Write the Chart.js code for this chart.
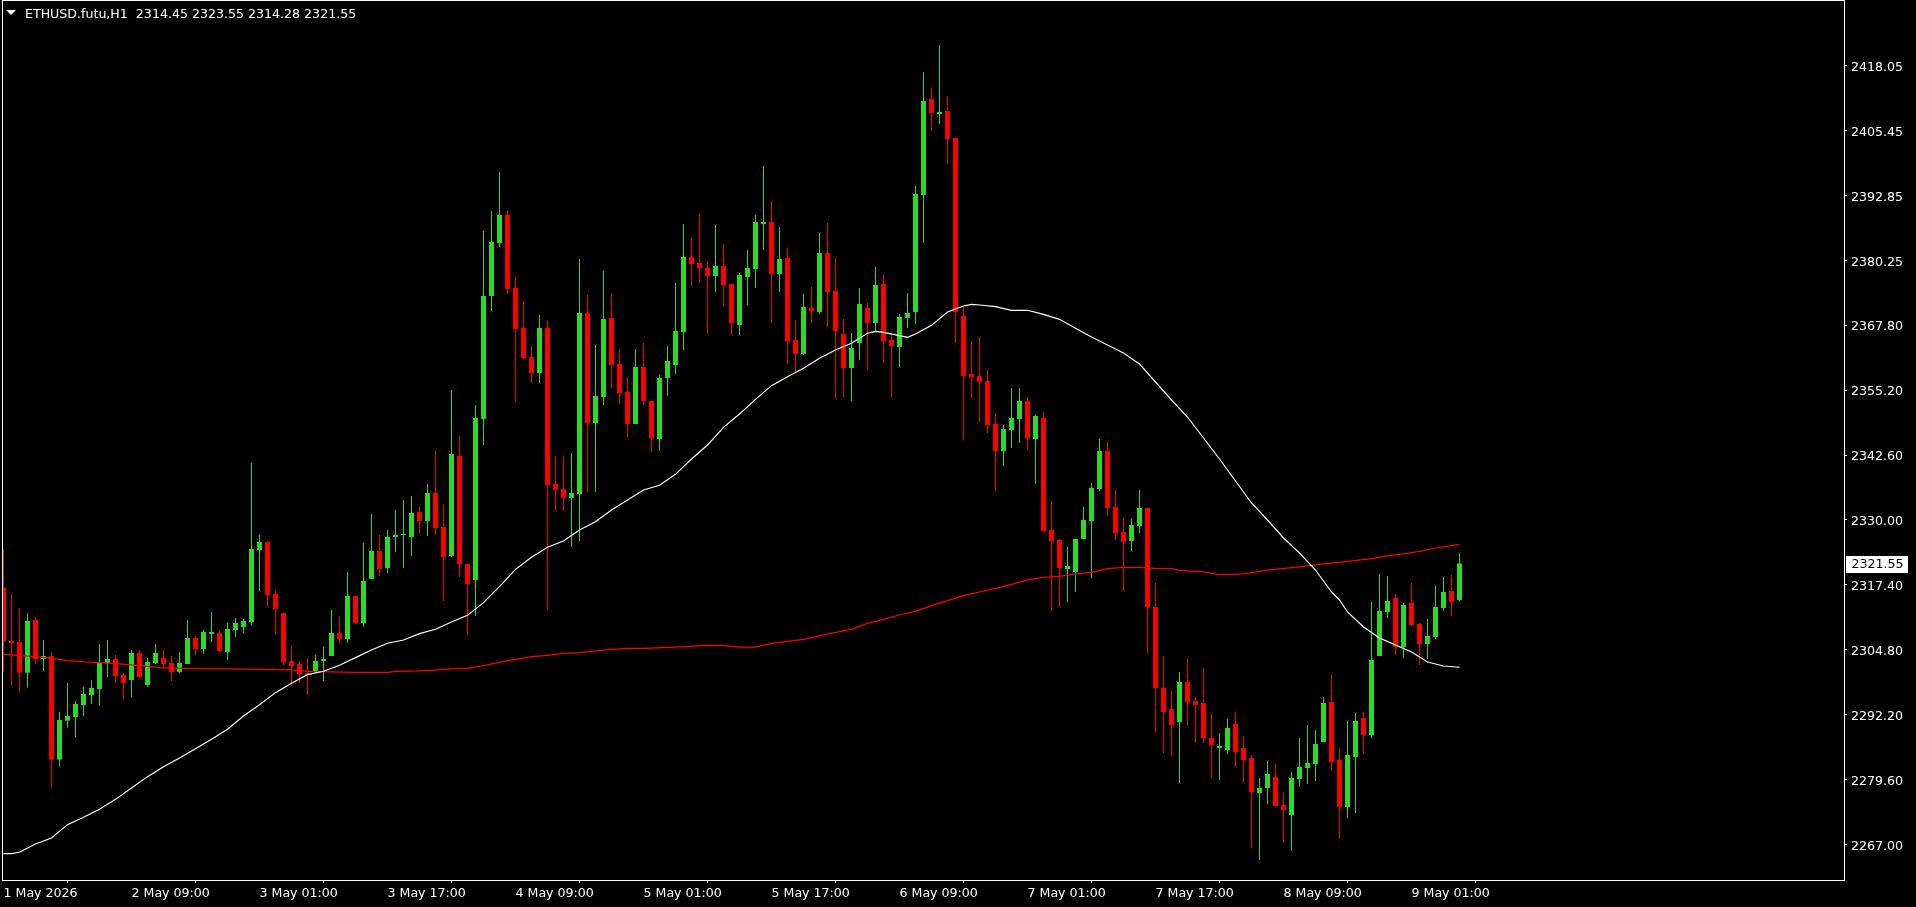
<!DOCTYPE html>
<html>
<head>
<meta charset="utf-8">
<title>ETHUSD.futu,H1</title>
<script src="https://cdn.jsdelivr.net/npm/chart.js@4"></script>
<style>
  html, body { margin: 0; padding: 0; background: #000; overflow: hidden; }
  #wrap { position: relative; width: 1916px; height: 907px; }
</style>
</head>
<body>
<div id="wrap"><canvas id="chart" width="1916" height="907"></canvas></div>
<script>
const symbolLine = "ETHUSD.futu,H1  2314.45 2323.55 2314.28 2321.55";
const lastPrice = 2321.55;

const opens = [
  2316.88,2306.54,2306.35,2300.40,2310.61,2303.05,2303.63,2283.53,2291.09,2291.80,
  2294.13,2296.07,2297.23,2302.21,2303.05,2299.94,2298.97,2304.21,2298.01,2302.27,
  2303.24,2302.27,2300.53,2302.08,2307.12,2304.99,2307.90,2308.09,2304.41,2308.67,
  2309.25,2310.22,2324.18,2325.73,2315.65,2311.97,2302.66,2302.08,2300.33,2300.72,
  2302.66,2303.63,2308.09,2306.92,2315.26,2310.03,2318.56,2323.99,2320.69,2326.71,
  2327.09,2326.71,2331.55,2329.81,2335.24,2328.64,2323.02,2342.41,2321.47,2318.37,
  2349.59,2373.44,2383.72,2389.15,2374.99,2367.23,2361.61,2358.51,2367.23,2336.98,
  2336.01,2334.27,2335.04,2370.14,2348.81,2353.85,2369.17,2360.25,2354.82,2348.62,
  2359.67,2353.08,2345.71,2357.54,2360.06,2366.46,2381.00,2379.84,2378.87,2377.31,
  2379.25,2375.76,2367.81,2377.12,2378.67,2387.40,2387.79,2377.70,2380.81,2364.90,
  2362.19,2371.11,2370.33,2381.77,2374.41,2366.07,2359.47,2364.32,2371.11,2368.20,
  2375.76,2364.90,2363.55,2369.17,2370.33,2393.02,2411.64,2408.73,2409.31,2404.07,
  2369.56,2358.31,2357.92,2356.95,2348.61,2343.38,2347.45,2349.58,2353.08,2345.71,
  2349.78,2328.06,2326.12,2320.50,2319.92,2326.32,2329.81,2336.01,2343.38,2332.52,
  2327.68,2325.93,2328.84,2332.33,2313.13,2297.42,2293.35,2290.83,2298.59,2294.90,
  2294.51,2287.73,2285.79,2285.40,2290.44,2285.79,2283.85,2277.06,2278.03,2280.16,
  2274.73,2272.80,2279.78,2281.91,2282.68,2286.95,2294.71,2283.46,2274.35,2284.04,
  2291.60,2288.31,2303.63,2312.16,2314.87,2305.37,2313.91,2309.83,2305.95,2307.31,
  2312.94,2316.23,2314.45
];
const highs = [
  2324.38,2315.46,2312.94,2311.90,2311.19,2306.73,2304.41,2292.77,2298.40,2294.91,
  2297.62,2298.97,2305.96,2306.73,2303.82,2300.33,2304.79,2304.79,2303.24,2305.96,
  2304.79,2303.63,2304.41,2310.61,2307.51,2308.67,2312.16,2308.67,2310.03,2311.00,
  2310.80,2341.05,2327.09,2325.93,2316.43,2311.97,2305.57,2302.66,2303.24,2303.82,
  2305.37,2312.55,2311.38,2319.92,2315.26,2325.54,2331.16,2327.09,2328.06,2331.94,
  2333.88,2334.65,2332.52,2336.98,2343.38,2333.10,2355.21,2346.29,2321.47,2352.30,
  2386.04,2389.92,2397.48,2390.12,2377.12,2372.47,2363.74,2369.75,2368.79,2342.41,
  2342.41,2342.99,2380.61,2373.63,2363.94,2378.29,2373.83,2362.97,2357.73,2363.16,
  2364.33,2353.08,2358.12,2363.74,2375.96,2387.40,2384.69,2389.34,2380.22,2387.20,
  2383.52,2375.76,2377.89,2382.36,2389.15,2398.65,2391.86,2386.82,2382.74,2368.79,
  2373.83,2375.18,2385.65,2387.59,2380.81,2368.98,2366.26,2374.99,2372.08,2379.06,
  2377.51,2365.87,2369.95,2374.02,2394.77,2416.88,2413.77,2422.11,2412.22,2404.07,
  2371.30,2364.71,2365.49,2359.09,2350.75,2348.42,2355.60,2355.60,2353.85,2350.36,
  2350.94,2333.69,2326.32,2324.77,2326.32,2332.52,2337.18,2345.71,2345.13,2335.82,
  2330.39,2330.20,2335.82,2332.33,2317.79,2303.63,2296.84,2300.52,2303.05,2295.68,
  2301.30,2292.38,2288.70,2291.41,2292.77,2288.11,2284.43,2279.97,2283.27,2282.68,
  2277.26,2281.13,2287.73,2290.25,2289.28,2295.68,2299.94,2285.79,2291.02,2292.57,
  2292.77,2314.10,2319.53,2319.14,2315.65,2313.91,2317.78,2310.03,2310.80,2317.20,
  2318.95,2319.33,2323.55
];
const lows = [
  2300.59,2298.01,2296.52,2297.49,2302.14,2300.72,2278.10,2282.17,2289.73,2287.80,
  2292.00,2294.32,2294.00,2299.56,2298.40,2295.16,2295.74,2299.36,2297.68,2302.08,
  2301.11,2298.78,2300.33,2302.08,2303.82,2304.02,2306.35,2304.41,2302.85,2307.31,
  2308.09,2309.64,2316.23,2313.13,2307.90,2301.88,2297.81,2298.40,2296.07,2300.33,
  2298.78,2303.63,2306.15,2306.15,2309.83,2309.31,2318.56,2319.14,2319.72,2323.80,
  2320.69,2323.02,2327.48,2326.90,2327.09,2314.29,2322.83,2318.95,2307.70,2311.39,
  2344.55,2370.53,2382.94,2373.83,2352.88,2361.22,2356.57,2356.57,2312.55,2331.75,
  2331.75,2324.77,2325.93,2335.43,2335.43,2352.30,2355.60,2352.50,2346.10,2348.62,
  2352.30,2343.19,2343.38,2354.05,2358.31,2362.97,2375.38,2375.96,2366.26,2374.21,
  2371.50,2365.87,2365.87,2371.69,2374.99,2382.36,2368.20,2374.21,2360.25,2358.70,
  2362.00,2368.20,2369.95,2367.43,2353.46,2353.85,2353.08,2361.03,2359.09,2366.65,
  2360.45,2353.85,2359.67,2367.23,2368.01,2383.71,2405.43,2406.79,2399.03,2364.32,
  2345.51,2353.66,2349.00,2346.87,2335.62,2340.47,2343.96,2344.93,2343.57,2336.98,
  2327.87,2312.36,2313.13,2314.10,2316.04,2326.32,2318.76,2335.62,2330.78,2326.12,
  2316.23,2323.99,2327.48,2304.21,2288.89,2284.82,2284.24,2279.00,2290.25,2286.76,
  2286.76,2279.97,2279.58,2284.62,2282.10,2279.00,2266.40,2264.07,2274.93,2274.54,
  2267.37,2265.81,2278.23,2278.81,2279.39,2286.95,2281.33,2268.14,2272.21,2273.18,
  2284.62,2287.73,2303.63,2311.00,2303.82,2303.24,2309.45,2301.88,2303.05,2306.92,
  2312.35,2311.38,2314.28
];
const closes = [
  2306.41,2306.15,2300.40,2310.42,2303.05,2303.63,2283.53,2291.22,2292.00,2294.32,
  2296.26,2297.43,2302.27,2303.05,2299.75,2298.40,2304.21,2299.56,2302.47,2304.21,
  2302.08,2300.53,2302.27,2307.12,2304.99,2308.28,2308.28,2304.60,2308.87,2310.03,
  2310.42,2324.38,2325.73,2315.46,2312.74,2302.47,2301.69,2300.14,2299.94,2302.66,
  2303.05,2308.09,2306.92,2315.26,2310.03,2318.17,2323.99,2320.50,2326.71,2327.09,
  2327.29,2331.36,2329.81,2335.24,2328.45,2322.83,2342.80,2321.47,2317.59,2349.78,
  2373.44,2383.91,2389.15,2374.80,2367.04,2361.42,2358.51,2367.23,2336.79,2335.82,
  2334.27,2335.24,2370.14,2348.81,2354.05,2368.98,2360.06,2354.63,2348.62,2359.67,
  2353.08,2345.90,2357.54,2360.83,2366.65,2381.00,2379.64,2378.87,2377.31,2379.25,
  2375.57,2368.20,2377.51,2378.87,2387.79,2387.79,2377.70,2380.61,2364.71,2362.19,
  2371.30,2370.53,2381.77,2374.21,2366.65,2359.47,2363.35,2371.89,2368.20,2375.57,
  2364.71,2363.74,2369.37,2370.14,2393.22,2411.25,2408.92,2409.12,2403.88,2370.33,
  2357.92,2357.73,2356.76,2348.42,2343.38,2347.65,2349.78,2353.08,2345.90,2350.17,
  2327.87,2325.93,2320.69,2321.08,2326.32,2330.00,2336.21,2343.38,2332.33,2327.48,
  2325.74,2329.03,2332.33,2313.13,2297.42,2292.77,2290.25,2298.59,2294.71,2294.13,
  2287.73,2286.37,2286.18,2289.67,2285.01,2283.46,2277.26,2278.03,2280.75,2274.54,
  2273.77,2279.97,2282.10,2282.88,2286.56,2294.51,2283.07,2274.35,2284.43,2291.02,
  2288.31,2302.85,2312.35,2314.29,2305.37,2313.52,2309.64,2305.95,2307.51,2313.13,
  2316.04,2314.10,2321.55
];

// white moving average, read every couple of bars
const fastMaBars = [0,1,2,4,6,8,10,12,14,16,18,20,22,24,26,28,30,32,34,36,38,40,42,44,46,48,50,52,54,56,58,60,62,64,66,68,70,72,74,76,78,80,82,84,86,88,90,92,94,96,98,100,102,104,106,108,109,110,112,113,114,116,118,120,121,122,124,126,128,130,132,134,136,138,140,142,144,146,148,150,152,154,156,158,160,162,164,166,167,168,170,172,174,176,178,180,182];
const fastMa = [2265.30,2265.30,2265.56,2267.17,2268.33,2270.92,2272.34,2273.89,2275.83,2278.03,2280.23,2282.17,2283.85,2285.66,2287.47,2289.41,2291.99,2294.19,2296.52,2298.33,2300.01,2300.66,2301.82,2303.31,2304.79,2306.09,2306.73,2307.96,2308.80,2310.22,2311.51,2313.97,2317.07,2320.43,2322.76,2324.70,2325.93,2328.06,2329.67,2331.94,2333.88,2335.82,2336.72,2338.86,2341.83,2344.54,2347.97,2350.55,2353.40,2356.05,2357.80,2359.41,2361.35,2362.97,2364.26,2366.20,2366.58,2366.39,2365.75,2365.42,2366.07,2367.75,2370.34,2371.50,2371.82,2371.69,2371.37,2370.66,2370.66,2369.88,2368.91,2367.16,2365.49,2363.93,2362.38,2360.25,2356.76,2353.27,2349.97,2345.90,2341.83,2337.56,2333.30,2330.00,2326.51,2323.60,2320.30,2316.04,2314.49,2312.16,2309.25,2307.12,2305.76,2304.40,2302.46,2301.69,2301.44];

// red moving average
const slowMaBars = [0,2,4,6,8,10,12,14,16,18,20,24,28,32,36,38,44,48,49,52,54,56,58,60,62,64,66,68,70,72,74,76,78,80,84,88,90,92,94,96,98,100,102,104,106,108,110,112,114,116,118,120,122,124,126,128,130,132,134,136,138,140,142,144,146,147,150,152,155,158,162,165,167,171,173,175,177,179,181,182];
const slowMa = [2303.95,2303.70,2303.50,2303.18,2302.73,2302.47,2302.34,2302.15,2301.89,2301.63,2301.30,2301.18,2301.11,2301.05,2300.92,2300.66,2300.46,2300.46,2300.66,2300.72,2300.91,2301.11,2301.24,2301.75,2302.40,2302.98,2303.50,2303.76,2304.15,2304.28,2304.60,2304.92,2305.11,2305.11,2305.37,2305.70,2305.63,2305.37,2305.37,2306.08,2306.47,2306.86,2307.51,2308.22,2308.80,2309.96,2310.74,2311.58,2312.29,2313.39,2314.36,2315.33,2316.04,2316.75,2317.53,2318.37,2318.88,2319.08,2319.53,2319.85,2320.56,2320.82,2320.82,2320.63,2320.56,2320.24,2319.92,2319.43,2319.53,2320.30,2320.89,2321.47,2321.79,2322.50,2323.02,2323.41,2323.92,2324.57,2325.02,2325.28];

const priceTicks = [2267.00,2279.60,2292.20,2304.80,2317.40,2330.00,2342.60,2355.20,2367.80,2380.25,2392.85,2405.45,2418.05];
const timeTickBars = [0,16,32,48,64,80,96,112,128,144,160,176];
const timeTickLabels = ["1 May 2026","2 May 09:00","3 May 01:00","3 May 17:00","4 May 09:00","5 May 01:00","5 May 17:00","6 May 09:00","7 May 01:00","7 May 17:00","8 May 09:00","9 May 01:00"];

const UP = "#26dc26";
const DOWN = "#ff0000";
const FONT = "'DejaVu Sans', sans-serif";
const FONT_SIZE = 12.6;
const candleColor = opens.map((o, i) => closes[i] >= o ? UP : DOWN);

// frame, symbol line and the last price tag
const terminalDecor = {
  id: "terminalDecor",
  beforeDraw(chart) {
    // price labels sit a little under their tick marks
    chart.scales.y.getLabelItems().forEach(item => {
      if (!item.nudged) {
        item.textOffset += 2;
        item.nudged = true;
      }
    });
  },
  afterDraw(chart) {
    const { ctx, chartArea: a, scales } = chart;
    ctx.save();
    ctx.strokeStyle = "#fff";
    ctx.lineWidth = 1;
    ctx.strokeRect(a.left - 0.5, a.top - 0.5, a.right - a.left + 1, a.bottom - a.top + 1);

    ctx.fillStyle = "#fff";
    ctx.beginPath();
    ctx.moveTo(6, 10);
    ctx.lineTo(16, 10);
    ctx.lineTo(11, 15);
    ctx.closePath();
    ctx.fill();

    ctx.font = FONT_SIZE + "px " + FONT;
    ctx.textBaseline = "middle";
    ctx.textAlign = "left";
    ctx.fillText(symbolLine, 25, 15);

    const y = Math.round(scales.y.getPixelForValue(lastPrice));
    ctx.fillStyle = "#fff";
    ctx.fillRect(1846, y - 8, 62, 17);
    ctx.fillStyle = "#000";
    ctx.fillText(lastPrice.toFixed(2), 1851.5, y + 1);
    ctx.restore();
  }
};

new Chart(document.getElementById("chart"), {
  type: "bar",
  data: {
    datasets: [
      {
        type: "line",
        data: fastMaBars.map((b, i) => ({ x: b, y: fastMa[i] })),
        borderColor: "#ffffff",
        borderWidth: 1.15,
        pointRadius: 0,
        tension: 0,
        order: 0
      },
      {
        type: "line",
        data: slowMaBars.map((b, i) => ({ x: b, y: slowMa[i] })),
        borderColor: "#ff0000",
        borderWidth: 1.25,
        pointRadius: 0,
        tension: 0,
        order: 1
      },
      {
        data: opens.map((o, i) => ({ x: i, y: [o, closes[i]] })),
        backgroundColor: candleColor,
        barThickness: 5,
        grouped: false,
        inflateAmount: 0,
        borderWidth: 0,
        order: 2
      },
      {
        data: lows.map((l, i) => ({ x: i, y: [l, highs[i]] })),
        backgroundColor: candleColor,
        barThickness: 1,
        grouped: false,
        inflateAmount: 0,
        borderWidth: 0,
        order: 3
      }
    ]
  },
  options: {
    responsive: false,
    animation: false,
    events: [],
    layout: { padding: { left: 3, top: 1, right: 0, bottom: 0 } },
    plugins: { legend: { display: false }, tooltip: { enabled: false } },
    scales: {
      x: {
        type: "linear",
        offset: false,
        min: -0.0625,
        max: 230.0625,
        border: { display: false },
        grid: { drawOnChartArea: false, drawTicks: true, tickLength: 3, color: "#fff" },
        afterBuildTicks: scale => { scale.ticks = timeTickBars.map(v => ({ value: v })); },
        afterFit: scale => { scale.height = 27; scale.paddingLeft = 0; scale.paddingRight = 0; },
        ticks: {
          autoSkip: false,
          maxRotation: 0,
          align: "start",
          padding: 3,
          color: "#fff",
          font: { family: FONT, size: FONT_SIZE },
          callback: value => timeTickLabels[timeTickBars.indexOf(value)]
        }
      },
      y: {
        position: "right",
        min: 2260.19,
        max: 2430.64,
        border: { display: false },
        grid: { drawOnChartArea: false, drawTicks: true, tickLength: 3, color: "#fff" },
        afterBuildTicks: scale => { scale.ticks = priceTicks.map(v => ({ value: v })); },
        afterFit: scale => { scale.width = 72; scale.paddingTop = 0; scale.paddingBottom = 0; },
        ticks: {
          autoSkip: false,
          padding: 4,
          color: "#fff",
          font: { family: FONT, size: FONT_SIZE },
          callback: value => value.toFixed(2)
        }
      }
    }
  },
  plugins: [terminalDecor]
});
</script>
</body>
</html>
